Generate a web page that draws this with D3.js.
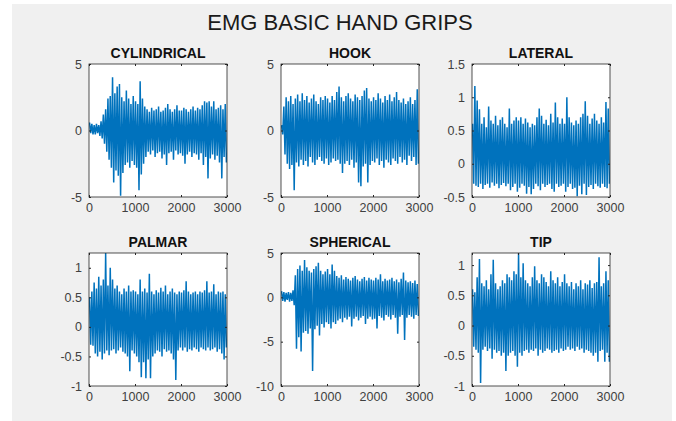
<!DOCTYPE html>
<html>
<head>
  <meta charset="utf-8">
  <title>EMG BASIC HAND GRIPS</title>
  <style>
    body { margin: 0; background: #fff; }
    text { font-family: "Liberation Sans", Arial, sans-serif; }
  </style>
</head>
<body>
  <svg id="main" width="676" height="421"></svg>

  <script src="https://cdn.jsdelivr.net/npm/d3@7.8.5/dist/d3.min.js"></script>
  <script>
    // each value = max / min of a 50-sample window
    const binSize = 50
    const xTicks = [0, 1000, 2000, 3000]

    const cylHi = [0.6, 0.5, 0.4, 0.5, 0.4, 0.7, 1.2, 1.6, 2.4, 2.6, 4.0, 2.8, 3.3, 3.5, 2.5, 2.2, 3.0, 2.4, 2.0, 2.6,
      2.2, 2.0, 3.7, 2.4, 1.8, 1.6, 1.4, 1.7, 1.5, 1.6, 1.8, 1.4, 1.5, 1.7, 2.0, 1.6, 1.4, 1.6, 1.9, 1.5,
      1.5, 1.7, 1.6, 1.4, 1.6, 1.8, 1.5, 1.7, 1.6, 1.9, 2.2, 2.1, 2.2, 1.8, 2.2, 1.6, 1.7, 1.9, 1.6, 2.0]
    const cylLo = [-0.2, -0.3, -0.3, -0.2, -0.4, -0.6, -1.0, -1.6, -2.2, -2.8, -3.9, -3.0, -3.4, -4.9, -3.2, -2.6, -2.4, -2.8, -2.3, -2.6,
      -2.8, -4.5, -3.3, -2.5, -2.0, -1.6, -1.8, -1.5, -2.0, -1.7, -1.6, -2.1, -1.8, -2.6, -1.7, -1.6, -2.2, -1.5, -1.8, -1.7,
      -1.9, -2.5, -1.8, -1.6, -2.0, -1.7, -1.8, -2.2, -1.7, -2.6, -2.0, -3.6, -2.1, -1.8, -2.2, -1.9, -2.4, -3.6, -2.0, -2.4]

    const hookHi = [0.4, 1.8, 2.5, 2.2, 2.6, 2.0, 2.4, 2.7, 2.2, 2.8, 2.3, 2.6, 2.1, 2.4, 2.7, 2.2, 2.0, 2.5, 2.3, 2.6,
      2.4, 2.1, 2.6, 2.3, 2.9, 3.3, 2.5, 2.2, 2.6, 2.8, 2.4, 2.2, 2.7, 2.5, 2.3, 2.6, 3.0, 3.2, 2.4, 2.2,
      2.5, 2.3, 2.8, 2.4, 2.1, 2.6, 2.3, 2.7, 2.2, 2.5, 2.9, 2.3, 2.1, 2.4, 2.0, 2.2, 2.5, 2.0, 2.3, 3.1]
    const hookLo = [-0.3, -1.8, -2.5, -2.9, -2.6, -4.5, -2.4, -2.7, -2.2, -2.6, -2.3, -2.7, -2.0, -2.4, -2.6, -2.2, -2.0, -2.3, -2.5, -2.1,
      -2.6, -2.4, -2.1, -2.3, -2.2, -2.5, -3.2, -2.5, -2.3, -2.6, -2.2, -2.8, -2.4, -3.9, -4.2, -2.7, -2.5, -3.9, -2.6, -2.3,
      -2.4, -2.1, -2.6, -2.3, -2.8, -2.2, -2.4, -2.6, -2.1, -2.3, -2.5, -2.0, -2.4, -2.2, -2.6, -1.9, -2.3, -2.0, -2.6, -2.5]

    const latHi = [0.6, 1.17, 0.95, 0.82, 0.6, 0.7, 0.55, 0.86, 0.65, 0.6, 0.72, 0.58, 0.66, 0.7, 0.6, 0.55, 0.83, 0.6, 0.65, 0.7,
      0.65, 0.7, 0.6, 0.68, 0.62, 0.55, 0.6, 0.58, 0.7, 0.83, 0.72, 0.6, 0.66, 0.58, 0.75, 0.62, 0.92, 0.7, 0.6, 0.68,
      0.6, 1.0, 0.7, 0.62, 0.58, 0.65, 0.6, 0.7, 0.75, 0.94, 0.72, 0.6, 0.68, 0.75, 0.65, 0.6, 0.7, 0.62, 0.93, 0.83]
    const latLo = [-0.3, -0.33, -0.35, -0.3, -0.38, -0.32, -0.3, -0.36, -0.28, -0.33, -0.3, -0.37, -0.32, -0.29, -0.34, -0.3, -0.4, -0.35, -0.3, -0.42,
      -0.36, -0.3, -0.33, -0.45, -0.35, -0.46, -0.38, -0.3, -0.34, -0.4, -0.3, -0.35, -0.32, -0.3, -0.38, -0.42, -0.3, -0.35, -0.33, -0.3,
      -0.42, -0.35, -0.3, -0.38, -0.36, -0.49, -0.33, -0.46, -0.3, -0.47, -0.35, -0.32, -0.38, -0.3, -0.34, -0.36, -0.3, -0.35, -0.37, -0.3]

    const palHi = [0.5, 0.6, 0.75, 0.65, 0.85, 0.7, 0.8, 1.25, 0.7, 1.0, 0.8, 0.65, 0.7, 0.6, 0.55, 0.65, 0.6, 0.7, 0.6, 0.62,
      0.6, 0.55, 0.8, 0.6, 0.65, 0.58, 0.9, 0.6, 0.55, 0.62, 0.58, 0.66, 0.6, 0.7, 0.55, 0.6, 0.65, 0.58, 0.55, 0.6,
      0.58, 0.62, 0.77, 0.6, 0.55, 0.58, 0.6, 0.55, 0.6, 0.58, 0.62, 0.77, 0.58, 0.6, 0.72, 0.55, 0.6, 0.58, 0.6, 0.55]
    const palLo = [-0.3, -0.32, -0.45, -0.5, -0.42, -0.55, -0.45, -0.4, -0.48, -0.4, -0.38, -0.45, -0.4, -0.35, -0.42, -0.45, -0.5, -0.75, -0.4, -0.45,
      -0.5, -0.6, -0.85, -0.6, -0.87, -0.55, -0.87, -0.5, -0.45, -0.4, -0.42, -0.5, -0.38, -0.42, -0.4, -0.45, -0.55, -0.9, -0.4, -0.35,
      -0.4, -0.35, -0.42, -0.38, -0.4, -0.35, -0.38, -0.42, -0.35, -0.38, -0.4, -0.35, -0.4, -0.38, -0.35, -0.42, -0.38, -0.45, -0.55, -0.35]

    const sphHi = [0.7, 0.6, 0.5, 0.6, 0.5, 0.8, 2.5, 3.2, 3.6, 3.0, 4.2, 3.4, 3.0, 2.8, 3.2, 3.5, 3.9, 3.0, 2.6, 2.9,
      3.2, 2.6, 3.7, 3.0, 2.4, 2.2, 2.5, 2.0, 2.3, 2.1, 1.9, 2.2, 2.4, 2.0, 1.8, 2.1, 2.3, 1.9, 2.2, 2.0,
      1.9, 2.2, 2.0, 2.6, 1.8, 2.1, 1.9, 2.0, 2.2, 1.8, 2.0, 1.7, 2.1, 2.8, 1.9, 1.7, 1.8, 1.6, 1.9, 1.5]
    const sphLo = [-0.4, -0.5, -0.3, -0.5, -0.4, -0.9, -5.8, -4.5, -6.1, -4.0, -3.8, -4.1, -3.5, -8.3, -3.6, -3.2, -4.3, -3.0, -3.4, -2.8,
      -3.0, -3.5, -2.8, -3.0, -2.6, -2.4, -2.8, -2.3, -2.5, -2.2, -3.3, -2.4, -2.2, -2.6, -2.3, -2.1, -3.0, -2.4, -2.2, -2.5,
      -2.4, -3.5, -2.1, -2.3, -2.6, -2.0, -2.2, -2.5, -2.0, -2.3, -4.1, -2.2, -2.0, -4.8, -2.3, -2.0, -2.2, -2.4, -2.0, -2.1]

    const tipHi = [0.6, 0.55, 0.8, 1.1, 0.7, 0.65, 0.75, 0.6, 0.85, 1.09, 0.7, 0.6, 0.65, 0.75, 0.7, 0.85, 0.8, 0.75, 0.9, 0.85,
      1.2, 0.8, 1.03, 0.75, 0.7, 0.65, 0.8, 0.98, 0.75, 0.7, 0.85, 0.8, 0.72, 0.65, 0.9, 0.75, 0.7, 0.8, 0.65, 0.72,
      0.85, 0.7, 0.65, 0.72, 0.6, 0.7, 0.65, 0.75, 0.6, 0.7, 0.68, 0.75, 0.62, 0.7, 0.72, 1.13, 0.65, 0.7, 0.9, 0.75]
    const tipLo = [-0.35, -0.4, -0.45, -0.95, -0.4, -0.35, -0.42, -0.38, -0.55, -0.4, -0.45, -0.42, -0.5, -0.45, -0.75, -0.5, -0.45, -0.42, -0.5, -0.68,
      -0.45, -0.5, -0.42, -0.4, -0.45, -0.4, -0.42, -0.38, -0.5, -0.4, -0.45, -0.42, -0.38, -0.4, -0.45, -0.42, -0.4, -0.45, -0.38, -0.42,
      -0.4, -0.35, -0.4, -0.38, -0.42, -0.35, -0.4, -0.38, -0.45, -0.4, -0.42, -0.45, -0.5, -0.45, -0.6, -0.42, -0.4, -0.6, -0.45, -0.6]

    const titles = ['CYLINDRICAL', 'HOOK', 'LATERAL', 'PALMAR', 'SPHERICAL', 'TIP']
    const highs = [cylHi, hookHi, latHi, palHi, sphHi, tipHi]
    const lows = [cylLo, hookLo, latLo, palLo, sphLo, tipLo]
    const yDomains = [[-5, 5], [-5, 5], [-0.5, 1.5], [-1, 1.25], [-10, 5], [-1, 1.2]]
    const yTicks = [[-5, 0, 5], [-5, 0, 5], [-0.5, 0, 0.5, 1, 1.5], [-1, -0.5, 0, 0.5, 1], [-10, -5, 0, 5], [-1, -0.5, 0, 0.5, 1]]

    const svg = d3.select('#main')
    const colX = [89, 281, 472]
    const rowY = [64, 253]
    const w = 138, h = 133

    svg.append('rect').attr('x', 12).attr('y', 4).attr('width', 660).attr('height', 417).attr('fill', '#f0f0f0')

    svg.append('text').text('EMG BASIC HAND GRIPS')
      .attr('x', 340).attr('y', 30).attr('text-anchor', 'middle')
      .attr('font-size', 22).attr('fill', '#1a1a1a')

    titles.forEach((title, i) => {
      const left = colX[i % 3], top = rowY[Math.floor(i / 3)]
      const g = svg.append('g').attr('transform', `translate(${left}, ${top})`)

      const x = d3.scaleLinear().domain([0, 3000]).range([0, w])
      const y = d3.scaleLinear().domain(yDomains[i]).range([h, 0])

      g.append('rect').attr('width', w).attr('height', h).attr('fill', '#fff')

      g.append('clipPath').attr('id', 'clip' + i)
        .append('rect').attr('width', w).attr('height', h)

      // zigzag through each window's max and min
      const pts = []
      highs[i].forEach((v, k) => {
        pts.push([k * binSize + 12, v])
        pts.push([k * binSize + 37, lows[i][k]])
      })
      const line = d3.line().x(d => x(d[0])).y(d => y(d[1]))
      g.append('path').datum(pts)
        .attr('clip-path', `url(#clip${i})`)
        .attr('d', line)
        .attr('fill', 'none')
        .attr('stroke', '#0072bd')
        .attr('stroke-width', 1.5)
        .attr('stroke-linejoin', 'bevel')

      const fmt = d => String(d)
      g.append('g').call(d3.axisLeft(y).tickValues(yTicks[i]).tickFormat(fmt).tickSizeInner(-2).tickSizeOuter(0).tickPadding(7))
      g.append('g').attr('transform', `translate(0, ${h})`)
        .call(d3.axisBottom(x).tickValues(xTicks).tickFormat(fmt).tickSizeInner(-2).tickSizeOuter(0).tickPadding(6))
      g.append('g').attr('transform', `translate(${w}, 0)`)
        .call(d3.axisRight(y).tickValues(yTicks[i]).tickFormat('').tickSizeInner(-2).tickSizeOuter(0))
      g.append('g')
        .call(d3.axisTop(x).tickValues(xTicks).tickFormat('').tickSizeInner(-2).tickSizeOuter(0))

      g.selectAll('.domain').remove()
      g.selectAll('.tick line').attr('stroke', '#262626')
      g.selectAll('.tick text').attr('font-size', 12.5).attr('fill', '#404040')
        .attr('font-family', '"Liberation Sans", Arial, sans-serif')

      g.append('rect').attr('width', w).attr('height', h)
        .attr('fill', 'none').attr('stroke', '#262626').attr('stroke-width', 0.8)

      g.append('text').text(title)
        .attr('x', w / 2).attr('y', -6).attr('text-anchor', 'middle')
        .attr('font-size', 14).attr('font-weight', 'bold').attr('fill', '#111')
    })
  </script>
</body>
</html>
